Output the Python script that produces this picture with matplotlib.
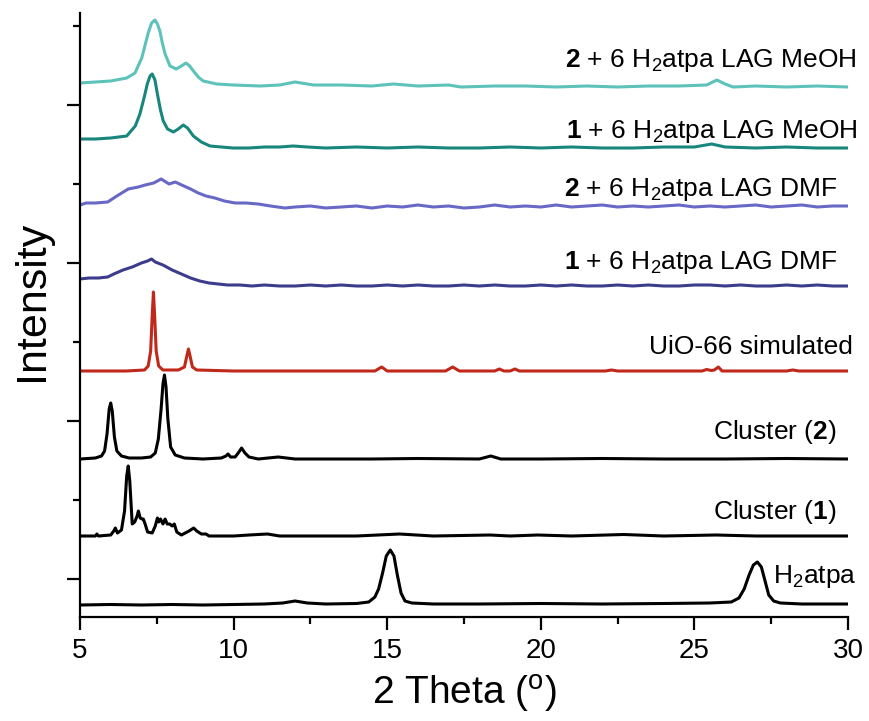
import matplotlib
matplotlib.use("Agg")
import matplotlib.pyplot as plt
import numpy as np

plt.rcParams['font.family'] = ['Liberation Sans', 'DejaVu Sans']
plt.rcParams['mathtext.fontset'] = 'custom'
plt.rcParams['mathtext.rm'] = 'Liberation Sans'
plt.rcParams['mathtext.bf'] = 'Liberation Sans:bold'
plt.rcParams['mathtext.it'] = 'Liberation Sans:italic'

# ---------------- data (2theta, relative intensity) ----------------
h2atpa_x = [5.0, 6.0, 7.0, 8.0, 9.0, 10.0, 11.0, 11.6, 12.0, 12.4, 13.0, 14.0, 14.4, 14.6, 14.72, 14.85,
            14.97, 15.1, 15.22, 15.33, 15.45, 15.58, 15.8, 16.5, 18.0, 20.0, 22.0, 24.0, 25.5, 26.2,
            26.45, 26.62, 26.78, 26.92, 27.05, 27.18, 27.3, 27.42, 27.58, 27.8, 28.5, 29.5, 30.0]
h2atpa_y = [0, 0.5, 0, 0.5, 0, 0.5, 1, 2, 4, 2, 1, 1.5, 3, 8, 16, 32,
            49, 55, 49, 30, 12, 4, 2, 1, 1, 1.5, 1, 1.5, 2, 3,
            7, 16, 30, 40, 43, 38, 24, 10, 4, 2, 1, 1, 1]

cluster1_x = [5.0, 5.5, 5.55, 5.6, 6.0, 6.1, 6.15, 6.22, 6.35, 6.45, 6.52, 6.57, 6.62, 6.7, 6.78, 6.86,
              6.9, 6.96, 7.02, 7.06, 7.12, 7.2, 7.35, 7.45, 7.52, 7.56, 7.62, 7.7, 7.77, 7.84, 7.92,
              8.0, 8.07, 8.15, 8.3, 8.55, 8.7, 8.8, 8.95, 9.1, 9.2, 9.5, 10.0, 10.5, 11.1, 11.5, 12.5,
              14.0, 15.4, 16.5, 18.35, 19.0, 19.9, 21.0, 22.7, 24.0, 25.7, 27.0, 28.5, 30.0]
cluster1_y = [0, 0, 2, 0, 1, 5, 8, 3, 6, 25, 60, 70, 55, 12, 14, 20,
              25, 18, 17, 17, 12, 4, 3, 10, 18, 14, 17, 12, 17, 12, 12,
              10, 12, 4, 1, 5, 8, 5, 2, 2, 0, 0, 0, 1, 2, 0, 0,
              0, 2, 0, 1, 0, 1, 0, 1.5, 0, 1, 0, 0, 0]

cluster2_x = [5.0, 5.5, 5.7, 5.8, 5.88, 5.95, 6.0, 6.05, 6.12, 6.2, 6.35, 6.6, 7.0, 7.3, 7.45, 7.55,
              7.64, 7.7, 7.75, 7.8, 7.86, 7.95, 8.1, 8.4, 9.0, 9.6, 9.75, 9.82, 9.9, 10.05, 10.15,
              10.26, 10.37, 10.5, 10.8, 11.45, 12.0, 13.0, 14.5, 16.0, 18.0, 18.37, 18.7, 20.0, 22.0,
              24.0, 26.0, 28.0, 30.0]
cluster2_y = [0, 1, 3, 8, 25, 50, 56, 48, 22, 8, 3, 1, 1, 2, 6, 20,
              50, 75, 84, 72, 40, 12, 4, 1, 0, 1, 3, 5, 2, 2, 6,
              11, 6, 2, 0, 2, 0, 0, 0, 0.5, 0, 3, 0, 0, 0.5,
              0, 0, 0.5, 0]

uio_x = [5.0, 6.5, 7.1, 7.22, 7.3, 7.35, 7.39, 7.43, 7.48, 7.56, 7.7, 8.2, 8.4, 8.47, 8.53, 8.59, 8.66,
         8.8, 10.0, 12.0, 14.6, 14.82, 15.0, 16.9, 17.13, 17.35, 18.5, 18.65, 18.8, 19.0, 19.16, 19.3,
         22.1, 22.3, 22.5, 25.25, 25.4, 25.55, 25.65, 25.78, 25.9, 28.0, 28.2, 28.4, 30.0]
uio_y = [0, 0, 1, 5, 20, 55, 79, 55, 20, 5, 1, 1, 4, 14, 22, 14, 4,
         1, 0, 0, 0, 4, 0, 0, 4, 0, 0, 2, 0, 0, 2, 0,
         0, 1, 0, 0, 1.5, 0.5, 1, 4, 0, 0, 1, 0, 0]

dmf1_x = [5.0, 5.3, 5.6, 5.9, 6.1, 6.4, 6.7, 7.0, 7.2, 7.33, 7.45, 7.7, 8.0, 8.3, 8.6, 8.9, 9.2, 9.5,
          9.8, 10.2, 10.6, 11.0, 11.5, 12.0, 12.5, 13.0, 13.5, 14.0, 14.5, 15.0, 15.5, 16.0, 16.5, 17.0,
          17.5, 18.0, 18.5, 19.0, 19.5, 20.0, 20.5, 21.0, 21.5, 22.0, 22.5, 23.0, 23.5, 24.0, 24.5, 25.0,
          25.5, 26.0, 26.5, 27.0, 27.5, 28.0, 28.5, 29.0, 29.5, 30.0]
dmf1_y = [7, 8, 8, 9, 12, 16, 19, 23, 25, 27, 24, 21, 16, 12, 8, 5, 3, 2,
          1, 1, 0, 1, 0, 0, 1, 0, 1, 0, 0, 1, 0, 1, 0, 0,
          1, 0, 1, 0, 0, 1, 0, 1, 0, 0, 1, 0, 1, 0, 0, 1,
          1, 0, 1, 0, 0, 1, 0, 1, 0, 0]

dmf2_x = [5.0, 5.2, 5.5, 5.9, 6.2, 6.57, 6.9, 7.12, 7.4, 7.64, 7.9, 8.1, 8.31, 8.6, 8.85, 9.1, 9.39,
          9.7, 10.05, 10.4, 10.8, 11.2, 11.67, 12.0, 12.5, 13.0, 13.5, 14.0, 14.5, 15.0, 15.5, 16.0,
          16.5, 17.0, 17.5, 18.0, 18.5, 19.0, 19.5, 20.0, 20.5, 21.0, 21.5, 22.0, 22.5, 23.0, 23.5,
          24.0, 24.5, 25.0, 25.5, 26.0, 26.5, 27.0, 27.5, 28.0, 28.5, 29.0, 29.5, 30.0]
dmf2_y = [2, 4, 4, 5, 11, 18, 20, 22, 24, 28, 23, 25, 22, 18, 14, 11, 9,
          6, 4, 4, 3, 1, -1, 0, 1, -1, 0, 1, -1, 1, 0, 2,
          0, 1, -1, 0, 2, 0, 1, 0, 2, 0, 1, 2, 0, 1, 0,
          1, 2, 0, 1, 0, 1, 2, 0, 1, 2, 0, 1, 1]

meoh1_x = [5.0, 5.5, 6.0, 6.52, 6.8, 6.95, 7.1, 7.19, 7.28, 7.35, 7.44, 7.52, 7.62, 7.71, 7.85, 8.04,
           8.2, 8.36, 8.5, 8.69, 8.95, 9.23, 9.6, 9.98, 10.5, 11.0, 11.5, 11.94, 12.4, 13.0, 14.0,
           15.0, 16.0, 17.0, 18.0, 19.0, 20.0, 21.0, 22.0, 23.0, 24.0, 25.0, 25.56, 26.0, 27.0,
           28.0, 29.0, 30.0]
meoh1_y = [9, 9, 10, 12, 22, 34, 52, 64, 72, 74, 68, 54, 38, 27, 19, 16,
           19, 23, 20, 12, 6, 2, 1, 0, 0, 1, 1, 2, 1, 0, 1,
           0, 1, 0, 0, 1, 0, 1, 0, 0, 1, 1, 4, 1, 0,
           1, 0, 0]

meoh2_x = [5.0, 5.5, 6.0, 6.52, 6.79, 7.01, 7.12, 7.22, 7.33, 7.44, 7.52, 7.6, 7.68, 7.77, 7.93, 8.13,
           8.3, 8.45, 8.57, 8.69, 8.85, 9.01, 9.45, 10.0, 10.86, 11.5, 12.0, 12.6, 13.5, 14.5, 15.2,
           16.0, 17.0, 17.4, 18.5, 19.5, 20.5, 21.5, 22.5, 23.5, 24.5, 25.4, 25.73, 26.0, 26.26,
           27.0, 28.0, 29.0, 30.0]
meoh2_y = [4, 5, 6, 9, 14, 29, 42, 54, 64, 67, 63, 56, 44, 33, 21, 18,
           21, 24, 21, 16, 10, 6, 3, 2, 1, 2, 5, 2, 2, 1, 3,
           1, 2, 0, 1, 1, 0, 1, 0, 1, 1, 2, 7, 3, 0,
           1, 0, 1, 0]

traces_x = [h2atpa_x, cluster1_x, cluster2_x, uio_x, dmf1_x, dmf2_x, meoh1_x, meoh2_x]
traces_y = [h2atpa_y, cluster1_y, cluster2_y, uio_y, dmf1_y, dmf2_y, meoh1_y, meoh2_y]
offsets = [12, 81, 158, 246, 331, 410, 469, 530]
labels = ['H$_2$atpa', 'Cluster ($\\mathbf{1}$)', 'Cluster ($\\mathbf{2}$)', 'UiO-66 simulated',
          '$\\mathbf{1}$ + 6 H$_2$atpa LAG DMF', '$\\mathbf{2}$ + 6 H$_2$atpa LAG DMF',
          '$\\mathbf{1}$ + 6 H$_2$atpa LAG MeOH', '$\\mathbf{2}$ + 6 H$_2$atpa LAG MeOH']
colors = ['#000000', '#000000', '#000000', '#c0281a', '#3c3c8c', '#6868c6', '#17877d', '#5cc2ba']

# label anchor positions (layout)
label_xy = [(27.55, 34), (29.64, 98), (29.64, 178), (30.16, 263),
            (29.67, 348), (29.67, 421), (30.33, 479), (30.29, 550)]
label_ha = ['left', 'right', 'right', 'right', 'right', 'right', 'right', 'right']

xticks_major = [5, 10, 15, 20, 25, 30]

# ---------------- figure ----------------
fig = plt.figure(figsize=(8.69, 7.21), dpi=100)
ax = fig.add_axes([80 / 869, 104 / 721, 768 / 869, 604 / 721])

for xs, ys, off, c in zip(traces_x, traces_y, offsets, colors):
    ax.plot(xs, np.asarray(ys, dtype=float) + off, color=c, lw=2.2, solid_joinstyle='round')

for lab, (lx, ly), ha in zip(labels, label_xy, label_ha):
    ax.text(lx, ly, lab, ha=ha, va='baseline', fontsize=19, clip_on=False)

ax.set_xlim(5, 30)
ax.set_ylim(0, 604)
ax.set_xticks(xticks_major)
ax.set_xticks([7.5, 12.5, 17.5, 22.5, 27.5], minor=True)
ax.set_yticks([38, 196, 354, 512])
ax.set_yticks([117, 275, 433, 591], minor=True)
ax.set_yticklabels([])

for s in ['top', 'right']:
    ax.spines[s].set_visible(False)
for s in ['left', 'bottom']:
    ax.spines[s].set_linewidth(1.6)

ax.tick_params(axis='both', which='major', direction='out', width=1.6, labelsize=20)
ax.tick_params(axis='x', which='major', length=9.4, pad=5.5)
ax.tick_params(axis='x', which='minor', direction='out', length=5, width=1.6)
ax.tick_params(axis='y', which='major', length=9.5)
ax.tick_params(axis='y', which='minor', direction='out', length=5, width=1.6)

ax.set_xlabel('2 Theta ($^{\\mathrm{o}}$)', fontsize=28, labelpad=7)
ax.set_ylabel('Intensity', fontsize=31)
ax.yaxis.set_label_coords(-0.036, 0.524)

fig.savefig('out.png', dpi=100)
